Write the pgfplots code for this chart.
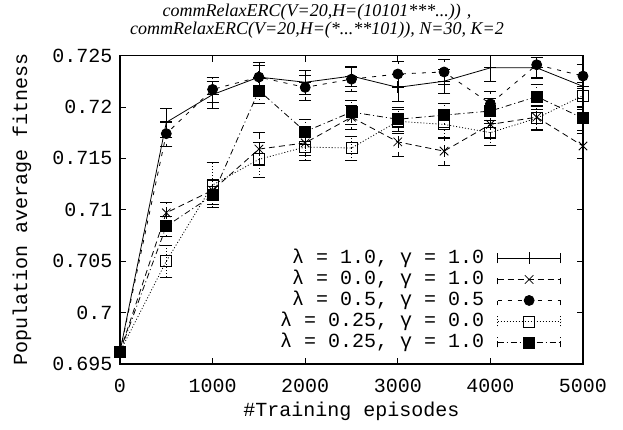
\documentclass[border=0pt]{standalone}
\usepackage{fontspec}
\setmainfont{Liberation Mono}
\newfontfamily\titlefont{Liberation Serif}
\usepackage{pgfplots}
\pgfplotsset{compat=1.18}

% x, mean, error
\pgfplotstableread{
x y e
0 0.6962 0
500 0.7185 0.0014
1000 0.7212 0.0013
1500 0.7229 0.0014
2000 0.7224 0.0012
2500 0.7230 0.0010
3000 0.7219 0.0013
3500 0.7225 0.0012
4000 0.7238 0.0013
4500 0.7238 0.0010
5000 0.7220 0.0012
}\lonegone
\pgfplotstableread{
x y e
0 0.6962 0
500 0.7097 0.0010
1000 0.7119 0.0010
1500 0.7159 0.0016
2000 0.7165 0.0012
2500 0.7190 0.0012
3000 0.7166 0.0014
3500 0.7157 0.0014
4000 0.7183 0.0012
4500 0.7190 0.0012
5000 0.7162 0.0012
}\lzerogone
\pgfplotstableread{
x y e
0 0.6962 0
500 0.7174 0.0012
1000 0.7217 0.0012
1500 0.7229 0.0012
2000 0.7219 0.0012
2500 0.7227 0.0012
3000 0.7232 0.0012
3500 0.7234 0.0012
4000 0.7203 0.0012
4500 0.7241 0.0012
5000 0.7230 0.0012
}\lhalfghalf
\pgfplotstableread{
x y e
0 0.6962 0
500 0.7050 0.0016
1000 0.7124 0.0022
1500 0.7149 0.0017
2000 0.7161 0.0013
2500 0.7160 0.0012
3000 0.7186 0.0012
3500 0.7183 0.0013
4000 0.7175 0.0012
4500 0.7189 0.0012
5000 0.7211 0.0013
}\lquartgzero
\pgfplotstableread{
x y e
0 0.6962 0
500 0.7084 0.0010
1000 0.7114 0.0009
1500 0.7216 0.0012
2000 0.7176 0.0012
2500 0.7195 0.0012
3000 0.7188 0.0012
3500 0.7192 0.0012
4000 0.7196 0.0012
4500 0.7210 0.0012
5000 0.7189 0.0012
}\lquartgone

\begin{document}
\begin{tikzpicture}
\begin{axis}[
	scale only axis,
	width=463bp, height=308.5bp,
	xmin=0, xmax=5000, ymin=0.695, ymax=0.725,
	xtick={0,1000,...,5000},
	ytick={0.695,0.7,0.705,0.71,0.715,0.72,0.725},
	x tick label style={yshift=-12bp, /pgf/number format/1000 sep=},
	y tick label style={xshift=-4bp, /pgf/number format/fixed, /pgf/number format/precision=3},
	/pgf/number format/assume math mode=true,
	font=\fontsize{20bp}{24bp}\selectfont,
	tick align=inside,
	major tick length=6bp,
	axis line style={line width=1.4bp},
	every tick/.style={line width=0.8bp},
	xlabel={\#Training episodes},
	ylabel={Population average fitness},
	xlabel style={at={(axis description cs:0.5,-0.152)}, anchor=center},
	ylabel style={at={(axis description cs:-0.212,0.5)}, anchor=center},
	every axis plot/.append style={line width=0.8bp, black},
	legend plot pos=right,
	legend cell align=right,
	legend style={draw=none, fill=none, at={(0.953,0.04)}, anchor=south east,
		inner sep=0pt, row sep=3bp, column sep=13bp,
		nodes={inner sep=0pt, text height=14bp, text depth=4bp}},
	legend image code/.code={
		\draw[#1,mark=none] (0bp,0bp) -- (63bp,0bp);
		\draw[#1,mark=none] (0bp,-5bp) -- (0bp,5bp) (63bp,-5bp) -- (63bp,5bp);
		\draw[#1] plot coordinates {(31.5bp,0bp)};
	},
	error bars/y dir=both, error bars/y explicit,
	error bars/error mark options={rotate=90, mark size=6bp},
]
\addplot[mark=+, mark size=6bp, mark options={solid}]
	table[x=x, y=y, y error=e] {\lonegone};
\addlegendentry{λ = 1.0, γ = 1.0}
\addplot[dash pattern=on 6bp off 4bp, mark=x, mark size=6bp, mark options={solid}]
	table[x=x, y=y, y error=e] {\lzerogone};
\addlegendentry{λ = 0.0, γ = 1.0}
\addplot[dash pattern=on 4bp off 6bp, mark=*, mark size=5bp, mark options={solid}]
	table[x=x, y=y, y error=e] {\lhalfghalf};
\addlegendentry{λ = 0.5, γ = 0.5}
\addplot[dash pattern=on 1bp off 2bp, mark=square, mark size=5.5bp, mark options={solid, fill=white}]
	table[x=x, y=y, y error=e] {\lquartgzero};
\addlegendentry{λ = 0.25, γ = 0.0}
\addplot[dash pattern=on 6bp off 3bp on 1bp off 3bp, mark=square*, mark size=5.5bp, mark options={solid}]
	table[x=x, y=y, y error=e] {\lquartgone};
\addlegendentry{λ = 0.25, γ = 1.0}
\end{axis}
\path ([shift={(-120bp,-66bp)}]current axis.south west) rectangle ++(623bp,430bp);
\node[align=center, font=\titlefont\itshape\fontsize{18bp}{18bp}\selectfont]
	at ([shift={(197bp,343bp)}]current axis.south west)
	{commRelaxERC(V=20,H=(10101***...)) ,\\commRelaxERC(V=20,H=(*...**101)), N=30, K=2};
\end{tikzpicture}
\end{document}
